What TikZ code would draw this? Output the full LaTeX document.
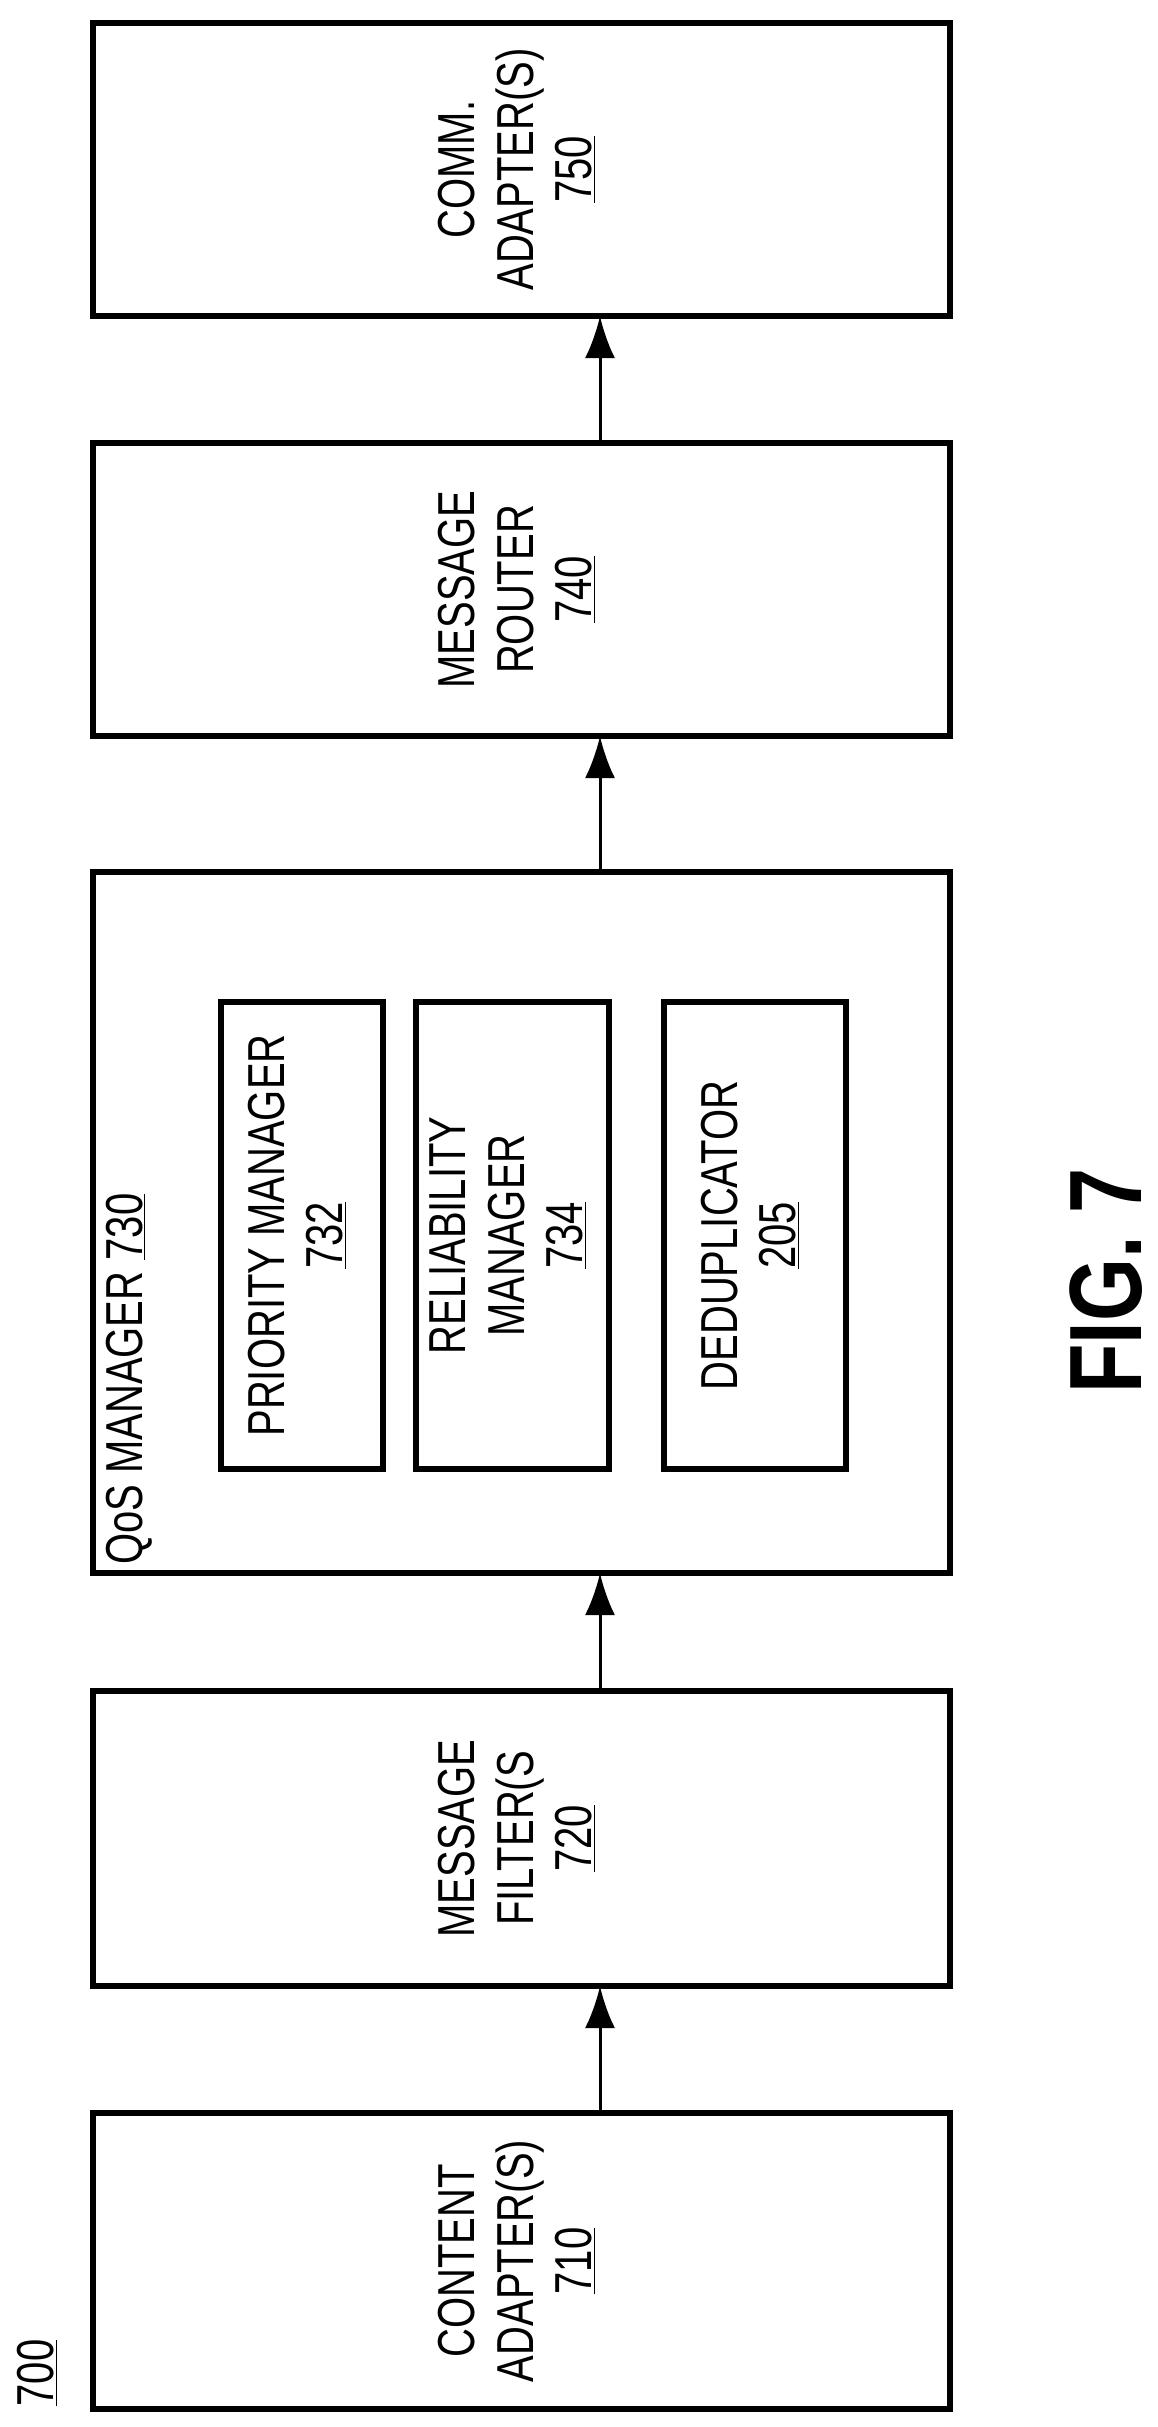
\documentclass[tikz,border=0pt]{standalone}
\usepackage{fontspec}
\setmainfont{Liberation Sans}
\usetikzlibrary{arrows.meta}
\newcommand{\rlab}[1]{\rotatebox{90}{\scalebox{1}[1.3]{\begin{tabular}{@{}c@{}}#1\end{tabular}}}}
\begin{document}
\begin{tikzpicture}[x=1pt,y=-1pt,
  box/.style={draw,line width=6pt,rectangle,inner sep=0,outer sep=0,minimum width=857pt},
  inbox/.style={draw,line width=5.5pt,rectangle,inner sep=0,outer sep=0,minimum height=467pt},
  lbl/.style={font=\fontsize{40}{45}\selectfont,inner sep=0,align=center},
  arr/.style={line width=3pt,-{Latex[length=42pt,width=30pt]}}]
\useasboundingbox (0,0) rectangle (1158,2427);
\node[box,minimum height=293pt] (comm) at (521.5,169.5) {};
\node[box,minimum height=293pt] (router) at (521.5,589.5) {};
\node[box,minimum height=701pt] (qos) at (521.5,1222.5) {};
\node[box,minimum height=295pt] (filter) at (521.5,1838.5) {};
\node[box,minimum height=296pt] (content) at (521.5,2261) {};
\node[inbox,minimum width=162pt] (prio) at (302,1235.5) {};
\node[inbox,minimum width=193pt] (rel) at (512.5,1235.5) {};
\node[inbox,minimum width=182pt] (dedup) at (755,1235.5) {};
\node[lbl] (commt) at (comm.center) {\rlab{COMM.\\ADAPTER(S)\\\underline{750}}};
\node[lbl] (routert) at (router.center) {\rlab{MESSAGE\\ROUTER\\\underline{740}}};
\node[lbl] (filtert) at (filter.center) {\rlab{MESSAGE\\FILTER(S\\\underline{720}}};
\node[lbl] (contentt) at (content.center) {\rlab{CONTENT\\ADAPTER(S)\\\underline{710}}};
\node[lbl] (priot) at (prio.center) {\rlab{PRIORITY MANAGER\\\underline{732}}};
\node[lbl] (relt) at (rel.center) {\rlab{RELIABILITY\\MANAGER\\\underline{734}}};
\node[lbl] (dedupt) at (dedup.center) {\rlab{DEDUPLICATOR\\\underline{205}}};
\node[lbl,anchor=south west] (qost) at (101,1565) {\rlab{QoS MANAGER \underline{730}}};
\node[lbl] (fig) at (1106,1281) {\rotatebox{90}{\scalebox{1}[1.27]{\fontsize{81}{90}\selectfont\bfseries FIG. 7}}};
\node[lbl] (num) at (42,2373) {\rlab{\underline{700}}};
\coordinate (ax) at (600,0);
\draw[arr] (content.north -| ax) -- (filter.south -| ax);
\draw[arr] (filter.north -| ax) -- (qos.south -| ax);
\draw[arr] (qos.north -| ax) -- (router.south -| ax);
\draw[arr] (router.north -| ax) -- (comm.south -| ax);
\end{tikzpicture}
\end{document}
